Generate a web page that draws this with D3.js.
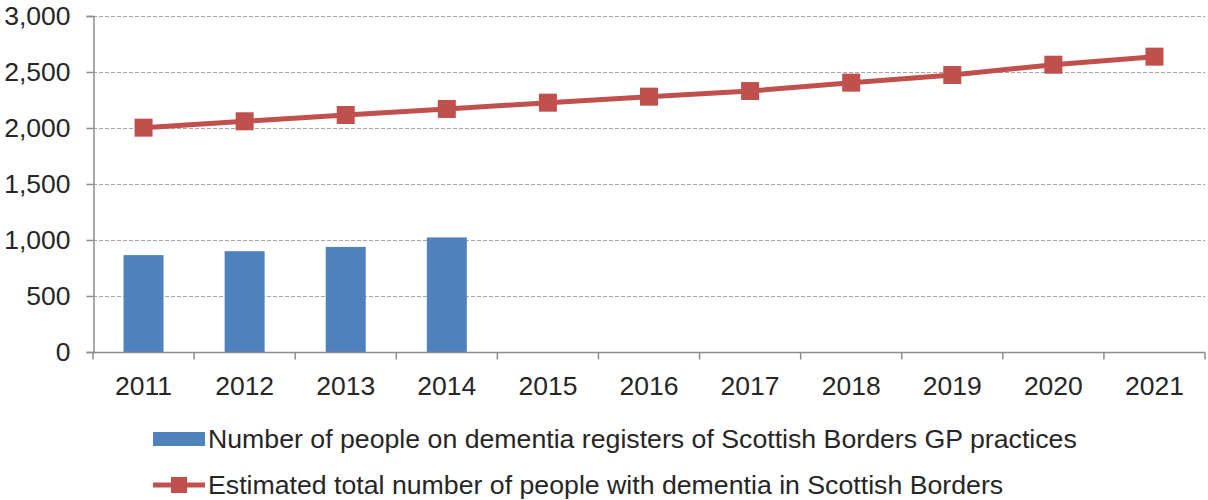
<!DOCTYPE html>
<html>
<head>
<meta charset="utf-8">
<script src="https://cdn.jsdelivr.net/npm/d3@7"></script>
<style>
  html, body { margin: 0; padding: 0; background: #fff; }
  svg { display: block; }
  text { font-family: "Liberation Sans", Arial, sans-serif; fill: #262626; }
</style>
</head>
<body>
<svg id="chart" width="1208" height="500"></svg>
<script>
// Years on the category axis
const years = ["2011", "2012", "2013", "2014", "2015", "2016", "2017", "2018", "2019", "2020", "2021"];
// People on dementia registers of Scottish Borders GP practices (recorded years only)
const registerYears = ["2011", "2012", "2013", "2014"];
const registerCounts = [865, 900, 938, 1023];
// Estimated total number of people with dementia in Scottish Borders
const estimatedTotals = [2003, 2060, 2116, 2170, 2226, 2280, 2330, 2405, 2473, 2565, 2637];
// Value axis ticks
const yTicks = [0, 500, 1000, 1500, 2000, 2500, 3000];
// Legend entries
const legendLabels = [
  "Number of people on dementia registers of Scottish Borders GP practices",
  "Estimated total number of people with dementia in Scottish Borders"
];

const barColor = "#4f81bd";
const lineColor = "#c0504d";
const axisColor = "#8c8c8c";
const fontSize = 26.5;
const legendFontSize = 26.7;

const svg = d3.select("#chart");
const plot = { left: 93, right: 1205, top: 16, bottom: 352 };

const x = d3.scaleBand().domain(years).range([plot.left, plot.right]).paddingInner(0).paddingOuter(0);
const y = d3.scaleLinear().domain([0, 3000]).range([plot.bottom, plot.top]);

// Dashed horizontal gridlines
svg.append("g")
  .selectAll("line")
  .data(yTicks.filter(d => d > 0))
  .join("line")
  .attr("x1", plot.left)
  .attr("x2", plot.right)
  .attr("y1", d => Math.round(y(d)) + 0.5)
  .attr("y2", d => Math.round(y(d)) + 0.5)
  .attr("stroke", "#a6a6a6")
  .attr("stroke-width", 1.2)
  .attr("stroke-dasharray", "4,2");

// Register bars
const barWidth = 40;
svg.append("g")
  .selectAll("rect")
  .data(registerYears.map((yr, i) => ({ yr, v: registerCounts[i] })))
  .join("rect")
  .attr("x", d => x(d.yr) + x.bandwidth() / 2 - barWidth / 2)
  .attr("width", barWidth)
  .attr("y", d => y(d.v))
  .attr("height", d => y(0) - y(d.v))
  .attr("fill", barColor);

// Y axis
const yAxis = d3.axisLeft(y)
  .tickValues(yTicks)
  .tickSize(7)
  .tickPadding(16)
  .tickFormat(d3.format(","));
const gy = svg.append("g")
  .attr("transform", `translate(${plot.left + 0.5},0)`)
  .call(yAxis);
gy.select(".domain").attr("stroke", axisColor).attr("stroke-width", 1.5);
gy.selectAll(".tick line").attr("stroke", axisColor).attr("stroke-width", 1.5);
gy.selectAll(".tick text")
  .attr("font-size", fontSize)
  .attr("fill", "#262626")
  .attr("font-family", "Liberation Sans, Arial, sans-serif");

// X axis with ticks on category boundaries
const gx = svg.append("g").attr("transform", `translate(0,${plot.bottom + 0.5})`);
gx.append("line")
  .attr("x1", plot.left).attr("x2", plot.right)
  .attr("stroke", axisColor).attr("stroke-width", 1.5);
const boundaries = years.map(yr => x(yr)).concat([x(years[years.length - 1]) + x.bandwidth()]);
gx.selectAll("line.tk")
  .data(boundaries)
  .join("line")
  .attr("class", "tk")
  .attr("x1", d => d).attr("x2", d => d)
  .attr("y1", 0).attr("y2", 7)
  .attr("stroke", axisColor).attr("stroke-width", 1.5);
gx.selectAll("text")
  .data(years)
  .join("text")
  .attr("x", d => x(d) + x.bandwidth() / 2)
  .attr("y", 42)
  .attr("text-anchor", "middle")
  .attr("font-size", fontSize)
  .text(d => d);

// Estimate line with square markers
const pts = years.map((yr, i) => ({ yr, v: estimatedTotals[i] }));
const line = d3.line()
  .x(d => x(d.yr) + x.bandwidth() / 2)
  .y(d => y(d.v));
svg.append("path")
  .datum(pts)
  .attr("d", line)
  .attr("fill", "none")
  .attr("stroke", lineColor)
  .attr("stroke-width", 5);
const mk = 18;
svg.append("g")
  .selectAll("rect")
  .data(pts)
  .join("rect")
  .attr("x", d => x(d.yr) + x.bandwidth() / 2 - mk / 2)
  .attr("y", d => y(d.v) - mk / 2)
  .attr("width", mk)
  .attr("height", mk)
  .attr("fill", lineColor);

// Legend
const leg = svg.append("g");
const row1 = 439, row2 = 485;
leg.append("rect")
  .attr("x", 153).attr("y", row1 - 7)
  .attr("width", 52).attr("height", 14)
  .attr("fill", barColor);
leg.append("line")
  .attr("x1", 153).attr("x2", 205)
  .attr("y1", row2).attr("y2", row2)
  .attr("stroke", lineColor).attr("stroke-width", 5);
leg.append("rect")
  .attr("x", 179 - 8).attr("y", row2 - 8)
  .attr("width", 16).attr("height", 16)
  .attr("fill", lineColor);
leg.selectAll("text")
  .data(legendLabels)
  .join("text")
  .attr("x", 208)
  .attr("y", (d, i) => (i === 0 ? row1 : row2) + 9)
  .attr("font-size", legendFontSize)
  .text(d => d);
</script>
</body>
</html>
